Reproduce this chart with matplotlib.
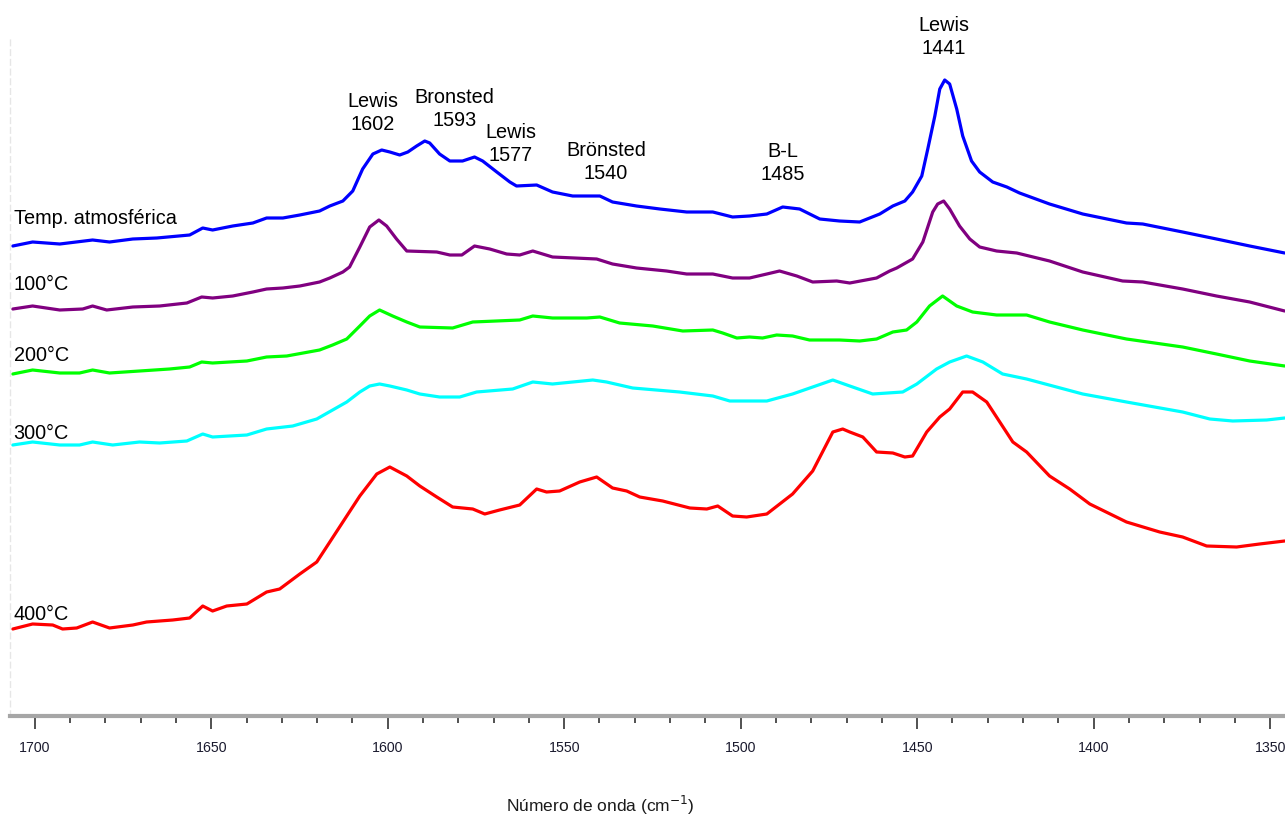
import matplotlib
matplotlib.use("Agg")
import matplotlib.pyplot as plt
from matplotlib import font_manager as fm
from matplotlib.ticker import MultipleLocator

# ---------------- data ----------------
series_names = ["Temp. atmosférica", "100°C", "200°C", "300°C", "400°C"]
series_colors = ["#0000ff", "#800080", "#00ff00", "#00ffff", "#ff0000"]

blue_wn = [1706.2, 1700.6, 1692.9, 1683.6, 1678.8, 1672.2, 1665.4, 1656.1, 1652.4, 1649.6,
           1643.9, 1638.2, 1634.3, 1629.7, 1624.9, 1619.3, 1616.4, 1612.7, 1609.9, 1607.1,
           1604.2, 1601.7, 1599.4, 1596.6, 1594.3, 1591.8, 1589.5, 1588.1, 1585.3, 1582.4,
           1578.8, 1575.4, 1573.1, 1569.1, 1565.4, 1563.5, 1557.8, 1553.3, 1547.6, 1539.9,
           1536.3, 1529.5, 1522.9, 1515.3, 1507.9, 1502.3, 1497.5, 1492.6, 1488.1, 1483.3,
           1477.6, 1472.0, 1466.3, 1460.6, 1456.9, 1453.5, 1451.3, 1448.7, 1447.0, 1445.0,
           1443.6, 1442.2, 1440.8, 1438.8, 1437.1, 1434.6, 1432.3, 1428.6, 1424.6, 1421.0,
           1412.5, 1403.1, 1390.7, 1386.1, 1374.8, 1365.2, 1355.8, 1345.9]
blue_abs = [4.70, 4.74, 4.72, 4.76, 4.74, 4.77, 4.78, 4.81, 4.88, 4.86,
            4.90, 4.93, 4.98, 4.98, 5.01, 5.05, 5.10, 5.15, 5.25, 5.47,
            5.62, 5.66, 5.64, 5.61, 5.64, 5.70, 5.75, 5.73, 5.62, 5.55,
            5.55, 5.59, 5.55, 5.44, 5.34, 5.30, 5.31, 5.24, 5.20, 5.20,
            5.14, 5.10, 5.07, 5.04, 5.04, 4.99, 5.00, 5.02, 5.09, 5.07,
            4.97, 4.95, 4.94, 5.02, 5.10, 5.15, 5.24, 5.40, 5.67, 6.00,
            6.27, 6.36, 6.32, 6.07, 5.80, 5.55, 5.44, 5.34, 5.29, 5.23,
            5.12, 5.02, 4.93, 4.92, 4.84, 4.77, 4.70, 4.63]

purple_wn = [1706.2, 1700.6, 1692.9, 1686.4, 1683.6, 1679.6, 1672.2, 1664.6, 1656.9, 1652.7,
             1649.6, 1643.9, 1638.2, 1634.3, 1629.7, 1624.9, 1619.3, 1616.4, 1612.7, 1610.8,
             1607.9, 1605.1, 1602.5, 1600.3, 1597.5, 1594.6, 1586.1, 1582.4, 1579.0, 1575.4,
             1571.1, 1566.3, 1562.6, 1558.9, 1553.3, 1540.8, 1536.3, 1529.5, 1521.0, 1515.3,
             1507.9, 1502.3, 1497.5, 1492.6, 1489.0, 1484.1, 1479.6, 1472.8, 1469.1, 1461.5,
             1457.8, 1455.8, 1451.3, 1448.4, 1445.6, 1444.2, 1442.5, 1440.8, 1438.0, 1435.1,
             1432.3, 1427.5, 1421.8, 1412.5, 1403.1, 1391.8, 1386.1, 1374.8, 1365.2, 1355.8,
             1345.9]
purple_abs = [4.07, 4.10, 4.06, 4.07, 4.10, 4.06, 4.09, 4.10, 4.13, 4.19,
              4.18, 4.20, 4.24, 4.27, 4.28, 4.30, 4.34, 4.38, 4.44, 4.49,
              4.69, 4.89, 4.96, 4.90, 4.77, 4.65, 4.64, 4.61, 4.61, 4.70,
              4.67, 4.62, 4.61, 4.65, 4.59, 4.57, 4.52, 4.48, 4.45, 4.42,
              4.42, 4.38, 4.38, 4.42, 4.45, 4.40, 4.34, 4.35, 4.33, 4.38,
              4.45, 4.48, 4.57, 4.74, 5.04, 5.12, 5.15, 5.07, 4.90, 4.77,
              4.69, 4.65, 4.63, 4.55, 4.44, 4.35, 4.34, 4.27, 4.20, 4.14,
              4.05]

green_wn = [1706.2, 1700.6, 1692.9, 1687.3, 1683.6, 1678.8, 1670.3, 1661.8, 1656.1, 1652.7,
            1649.6, 1639.9, 1634.3, 1628.6, 1619.3, 1615.6, 1611.6, 1607.9, 1605.1, 1602.3,
            1598.6, 1594.6, 1590.9, 1581.6, 1575.9, 1562.6, 1558.9, 1553.3, 1543.6, 1539.9,
            1534.3, 1524.9, 1516.4, 1507.9, 1505.1, 1501.1, 1497.5, 1493.8, 1489.8, 1485.3,
            1480.5, 1472.0, 1466.3, 1461.5, 1456.9, 1453.0, 1450.1, 1446.5, 1442.8, 1438.8,
            1434.3, 1427.5, 1419.0, 1412.5, 1403.1, 1390.7, 1374.8, 1365.2, 1355.8, 1345.9]
green_abs = [3.42, 3.46, 3.43, 3.43, 3.46, 3.43, 3.45, 3.47, 3.49, 3.54,
             3.53, 3.55, 3.59, 3.60, 3.66, 3.71, 3.77, 3.90, 4.00, 4.06,
             4.00, 3.94, 3.89, 3.88, 3.94, 3.96, 4.00, 3.98, 3.98, 3.99,
             3.93, 3.90, 3.85, 3.86, 3.83, 3.78, 3.79, 3.78, 3.81, 3.80,
             3.76, 3.76, 3.75, 3.77, 3.84, 3.86, 3.94, 4.10, 4.20, 4.10,
             4.04, 4.01, 4.01, 3.94, 3.86, 3.77, 3.69, 3.62, 3.55, 3.50]

cyan_wn = [1706.2, 1700.6, 1692.9, 1687.3, 1683.6, 1677.9, 1670.3, 1664.6, 1656.9, 1652.4,
           1649.6, 1639.9, 1634.3, 1626.9, 1620.1, 1615.6, 1611.6, 1607.9, 1605.1, 1602.3,
           1599.4, 1594.6, 1590.9, 1585.3, 1579.6, 1574.8, 1564.6, 1558.9, 1553.3, 1541.9,
           1538.0, 1530.6, 1517.3, 1507.9, 1503.1, 1492.6, 1485.3, 1479.6, 1473.9, 1469.1,
           1462.6, 1454.1, 1450.1, 1444.5, 1440.8, 1436.0, 1431.4, 1425.8, 1419.0, 1403.1,
           1390.7, 1374.8, 1367.1, 1360.6, 1351.0, 1345.9]
cyan_abs = [2.71, 2.74, 2.71, 2.71, 2.74, 2.71, 2.74, 2.73, 2.75, 2.82,
            2.79, 2.81, 2.87, 2.90, 2.97, 3.06, 3.14, 3.24, 3.30, 3.32,
            3.30, 3.26, 3.22, 3.19, 3.19, 3.24, 3.27, 3.34, 3.32, 3.36,
            3.34, 3.28, 3.24, 3.20, 3.15, 3.15, 3.22, 3.29, 3.36, 3.30,
            3.22, 3.24, 3.32, 3.47, 3.54, 3.60, 3.54, 3.42, 3.37, 3.22,
            3.14, 3.04, 2.97, 2.95, 2.96, 2.98]

red_wn = [1706.2, 1700.6, 1694.9, 1692.1, 1688.1, 1683.6, 1678.8, 1672.2, 1668.3, 1660.9,
          1656.1, 1652.4, 1649.6, 1645.6, 1639.9, 1634.3, 1630.6, 1624.9, 1620.1, 1616.4,
          1611.6, 1607.9, 1603.1, 1599.4, 1594.6, 1590.9, 1586.1, 1581.6, 1575.9, 1572.5,
          1568.3, 1562.6, 1557.8, 1555.0, 1551.3, 1545.6, 1540.8, 1536.3, 1532.3, 1528.6,
          1522.1, 1514.4, 1509.6, 1506.5, 1502.3, 1498.3, 1492.6, 1485.3, 1479.6, 1473.9,
          1471.1, 1469.1, 1465.4, 1461.5, 1456.9, 1453.5, 1451.3, 1447.3, 1443.6, 1440.8,
          1437.1, 1434.3, 1430.3, 1426.6, 1422.9, 1419.0, 1412.5, 1406.8, 1401.1, 1390.7,
          1381.3, 1374.8, 1368.0, 1359.5, 1353.0, 1345.9]
red_abs = [0.87, 0.92, 0.91, 0.87, 0.88, 0.94, 0.88, 0.91, 0.94, 0.96,
           0.98, 1.10, 1.05, 1.10, 1.12, 1.24, 1.27, 1.42, 1.54, 1.74,
           2.00, 2.20, 2.42, 2.49, 2.40, 2.30, 2.19, 2.09, 2.07, 2.02,
           2.06, 2.11, 2.27, 2.24, 2.25, 2.34, 2.39, 2.28, 2.25, 2.19,
           2.15, 2.08, 2.07, 2.10, 2.00, 1.99, 2.02, 2.22, 2.45, 2.84,
           2.87, 2.84, 2.79, 2.64, 2.63, 2.59, 2.60, 2.84, 2.99, 3.07,
           3.24, 3.24, 3.14, 2.94, 2.74, 2.64, 2.40, 2.27, 2.12, 1.94,
           1.84, 1.79, 1.70, 1.69, 1.72, 1.75]

series_wn = [blue_wn, purple_wn, green_wn, cyan_wn, red_wn]
series_abs = [blue_abs, purple_abs, green_abs, cyan_abs, red_abs]

# series label anchors (wavenumber, absorbance) at left side
series_label_wn = [1706.0, 1706.0, 1706.0, 1706.0, 1706.0]
series_label_abs = [4.99, 4.33, 3.61, 2.83, 1.02]

# peak annotations
peak_texts = ["Lewis\n1602", "Bronsted\n1593", "Lewis\n1577", "Brönsted\n1540", "B-L\n1485", "Lewis\n1441"]
peak_wn = [1604.2, 1581.0, 1565.2, 1538.2, 1488.1, 1442.5]
peak_abs = [6.04, 6.08, 5.73, 5.55, 5.54, 6.80]

xticks_major = [1700, 1650, 1600, 1550, 1500, 1450, 1400, 1350]

# ---------------- fonts ----------------
names = {f.name for f in fm.fontManager.ttflist}
regular = "Liberation Sans" if "Liberation Sans" in names else "DejaVu Sans"
narrow = "Liberation Sans Narrow" if "Liberation Sans Narrow" in names else regular
plt.rcParams["font.family"] = [regular, "DejaVu Sans"]

# ---------------- figure ----------------
fig = plt.figure(figsize=(12.85, 8.2), dpi=100)
ax = fig.add_axes([10 / 1285, 1 - 717 / 820, 1 - 10 / 1285, (717 - 37) / 820])

for wn, ab, col in zip(series_wn, series_abs, series_colors):
    ax.plot(wn, ab, color=col, lw=2.3, solid_joinstyle="round", solid_capstyle="round")

ax.set_xlim(1707.0, 1345.8)
ax.set_ylim(0, 6.80)

for name, x, y in zip(series_names, series_label_wn, series_label_abs):
    ax.text(x, y, name, ha="left", va="center", fontsize=14.3, color="black")

for t, x, y in zip(peak_texts, peak_wn, peak_abs):
    ax.text(x, y, t, ha="center", va="center", fontsize=14.3, color="black",
            linespacing=1.25, clip_on=False)

# spines
for s in ["top", "right"]:
    ax.spines[s].set_visible(False)
ax.spines["left"].set_color("#e6e6e6")
ax.spines["left"].set_linestyle((0, (4, 3)))
ax.spines["left"].set_linewidth(1.0)
ax.spines["bottom"].set_color("#a6a6a6")
ax.spines["bottom"].set_linewidth(3)

ax.set_yticks([])
ax.set_xticks(xticks_major)
ax.xaxis.set_minor_locator(MultipleLocator(10))
ax.tick_params(axis="x", which="major", direction="out", length=9, width=1.2,
               color="#333333", pad=8, labelcolor="#1a1a2e")
ax.tick_params(axis="x", which="minor", direction="out", length=5, width=1.2,
               color="#333333")
for lbl in ax.get_xticklabels():
    lbl.set_fontfamily([narrow, "DejaVu Sans"])
    lbl.set_fontsize(13 if narrow != regular else 10.2)

fig.text(600 / 1285, 1 - 805 / 820, "Número de onda (cm$^{-1}$)", ha="center", va="center",
         fontsize=14 if narrow != regular else 12.5, color="#1a1a1a",
         family=[narrow, "DejaVu Sans"])

fig.savefig("out.png", dpi=100)
